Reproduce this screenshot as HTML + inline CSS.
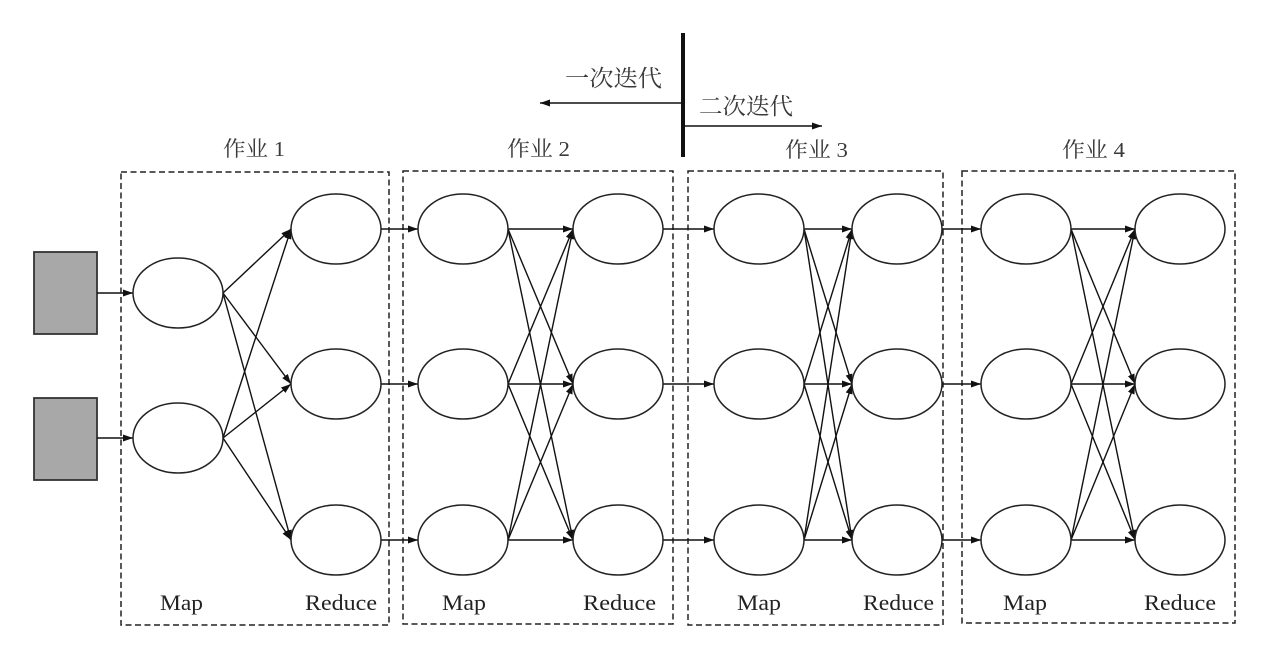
<!DOCTYPE html>
<html><head><meta charset="utf-8"><style>
html,body{margin:0;padding:0;background:#fff;}
svg{display:block;}
</style></head><body>
<svg width="1272" height="668" viewBox="0 0 1272 668" xmlns="http://www.w3.org/2000/svg">
<defs>
<marker id="ah" markerUnits="userSpaceOnUse" markerWidth="10" markerHeight="8" refX="10" refY="4" orient="auto">
<path d="M0,0.5 L10,4 L0,7.5 z" fill="#111"/>
</marker>
</defs>
<rect width="1272" height="668" fill="#fff"/>

<!-- top iteration divider -->
<line x1="683" y1="33" x2="683" y2="157" stroke="#111" stroke-width="4"/>
<line x1="683" y1="103" x2="540" y2="103" stroke="#111" stroke-width="1.4" marker-end="url(#ah)"/>
<line x1="683" y1="126" x2="822" y2="126" stroke="#111" stroke-width="1.4" marker-end="url(#ah)"/>
<g font-family="Liberation Serif, Noto Serif CJK SC, Noto Sans CJK SC, serif" fill="#3a3a3a">
<text x="565" y="86" font-size="23" textLength="97" lengthAdjust="spacingAndGlyphs">一次迭代</text>
<text x="699" y="114" font-size="23" textLength="94" lengthAdjust="spacingAndGlyphs">二次迭代</text>
<text x="223" y="156" font-size="21" textLength="62" lengthAdjust="spacingAndGlyphs">作业 1</text>
<text x="507" y="156" font-size="21" textLength="63" lengthAdjust="spacingAndGlyphs">作业 2</text>
<text x="785" y="157" font-size="21" textLength="63" lengthAdjust="spacingAndGlyphs">作业 3</text>
<text x="1062" y="157" font-size="21" textLength="63" lengthAdjust="spacingAndGlyphs">作业 4</text>
</g>

<!-- dashed boxes -->
<g fill="none" stroke="#222" stroke-width="1.5" stroke-dasharray="6,3.5">
<rect x="121" y="172" width="268" height="453"/>
<rect x="403" y="171" width="270" height="453"/>
<rect x="688" y="171" width="255" height="454"/>
<rect x="962" y="171" width="273" height="452"/>
</g>

<!-- input gray rects -->
<rect x="34" y="252" width="63" height="82" fill="#a8a8a8" stroke="#333" stroke-width="1.8"/>
<rect x="34" y="398" width="63" height="82" fill="#a8a8a8" stroke="#333" stroke-width="1.8"/>

<g stroke="#111" stroke-width="1.4" fill="none" marker-end="url(#ah)">
<!-- inputs -->
<line x1="97" y1="293" x2="133" y2="293"/>
<line x1="97" y1="438" x2="133" y2="438"/>
<!-- job1 shuffle -->
<line x1="223" y1="293" x2="291" y2="229"/>
<line x1="223" y1="293" x2="291" y2="384"/>
<line x1="223" y1="293" x2="291" y2="540"/>
<line x1="223" y1="438" x2="291" y2="229"/>
<line x1="223" y1="438" x2="291" y2="384"/>
<line x1="223" y1="438" x2="291" y2="540"/>
<!-- job1 -> job2 -->
<line x1="381" y1="229" x2="418" y2="229"/>
<line x1="381" y1="384" x2="418" y2="384"/>
<line x1="381" y1="540" x2="418" y2="540"/>
<!-- job2 shuffle -->
<line x1="508" y1="229" x2="573" y2="229"/>
<line x1="508" y1="229" x2="573" y2="384"/>
<line x1="508" y1="229" x2="573" y2="540"/>
<line x1="508" y1="384" x2="573" y2="229"/>
<line x1="508" y1="384" x2="573" y2="384"/>
<line x1="508" y1="384" x2="573" y2="540"/>
<line x1="508" y1="540" x2="573" y2="229"/>
<line x1="508" y1="540" x2="573" y2="384"/>
<line x1="508" y1="540" x2="573" y2="540"/>
<!-- job2 -> job3 -->
<line x1="663" y1="229" x2="714" y2="229"/>
<line x1="663" y1="384" x2="714" y2="384"/>
<line x1="663" y1="540" x2="714" y2="540"/>
<!-- job3 shuffle -->
<line x1="804" y1="229" x2="852" y2="229"/>
<line x1="804" y1="229" x2="852" y2="384"/>
<line x1="804" y1="229" x2="852" y2="540"/>
<line x1="804" y1="384" x2="852" y2="229"/>
<line x1="804" y1="384" x2="852" y2="384"/>
<line x1="804" y1="384" x2="852" y2="540"/>
<line x1="804" y1="540" x2="852" y2="229"/>
<line x1="804" y1="540" x2="852" y2="384"/>
<line x1="804" y1="540" x2="852" y2="540"/>
<!-- job3 -> job4 -->
<line x1="942" y1="229" x2="981" y2="229"/>
<line x1="942" y1="384" x2="981" y2="384"/>
<line x1="942" y1="540" x2="981" y2="540"/>
<!-- job4 shuffle -->
<line x1="1071" y1="229" x2="1135" y2="229"/>
<line x1="1071" y1="229" x2="1135" y2="384"/>
<line x1="1071" y1="229" x2="1135" y2="540"/>
<line x1="1071" y1="384" x2="1135" y2="229"/>
<line x1="1071" y1="384" x2="1135" y2="384"/>
<line x1="1071" y1="384" x2="1135" y2="540"/>
<line x1="1071" y1="540" x2="1135" y2="229"/>
<line x1="1071" y1="540" x2="1135" y2="384"/>
<line x1="1071" y1="540" x2="1135" y2="540"/>
</g>

<!-- ellipses -->
<g fill="#fff" stroke="#222" stroke-width="1.5">
<ellipse cx="178" cy="293" rx="45" ry="35"/>
<ellipse cx="178" cy="438" rx="45" ry="35"/>
<ellipse cx="336" cy="229" rx="45" ry="35"/>
<ellipse cx="336" cy="384" rx="45" ry="35"/>
<ellipse cx="336" cy="540" rx="45" ry="35"/>

<ellipse cx="463" cy="229" rx="45" ry="35"/>
<ellipse cx="463" cy="384" rx="45" ry="35"/>
<ellipse cx="463" cy="540" rx="45" ry="35"/>
<ellipse cx="618" cy="229" rx="45" ry="35"/>
<ellipse cx="618" cy="384" rx="45" ry="35"/>
<ellipse cx="618" cy="540" rx="45" ry="35"/>

<ellipse cx="759" cy="229" rx="45" ry="35"/>
<ellipse cx="759" cy="384" rx="45" ry="35"/>
<ellipse cx="759" cy="540" rx="45" ry="35"/>
<ellipse cx="897" cy="229" rx="45" ry="35"/>
<ellipse cx="897" cy="384" rx="45" ry="35"/>
<ellipse cx="897" cy="540" rx="45" ry="35"/>

<ellipse cx="1026" cy="229" rx="45" ry="35"/>
<ellipse cx="1026" cy="384" rx="45" ry="35"/>
<ellipse cx="1026" cy="540" rx="45" ry="35"/>
<ellipse cx="1180" cy="229" rx="45" ry="35"/>
<ellipse cx="1180" cy="384" rx="45" ry="35"/>
<ellipse cx="1180" cy="540" rx="45" ry="35"/>
</g>

<!-- Map / Reduce labels -->
<g font-family="Liberation Serif, serif" font-size="22" fill="#222">
<text x="160" y="610" textLength="43" lengthAdjust="spacingAndGlyphs">Map</text>
<text x="305" y="610" textLength="72" lengthAdjust="spacingAndGlyphs">Reduce</text>
<text x="442" y="610" textLength="44" lengthAdjust="spacingAndGlyphs">Map</text>
<text x="583" y="610" textLength="73" lengthAdjust="spacingAndGlyphs">Reduce</text>
<text x="737" y="610" textLength="44" lengthAdjust="spacingAndGlyphs">Map</text>
<text x="863" y="610" textLength="71" lengthAdjust="spacingAndGlyphs">Reduce</text>
<text x="1003" y="610" textLength="44" lengthAdjust="spacingAndGlyphs">Map</text>
<text x="1144" y="610" textLength="72" lengthAdjust="spacingAndGlyphs">Reduce</text>
</g>
</svg>
</body></html>
